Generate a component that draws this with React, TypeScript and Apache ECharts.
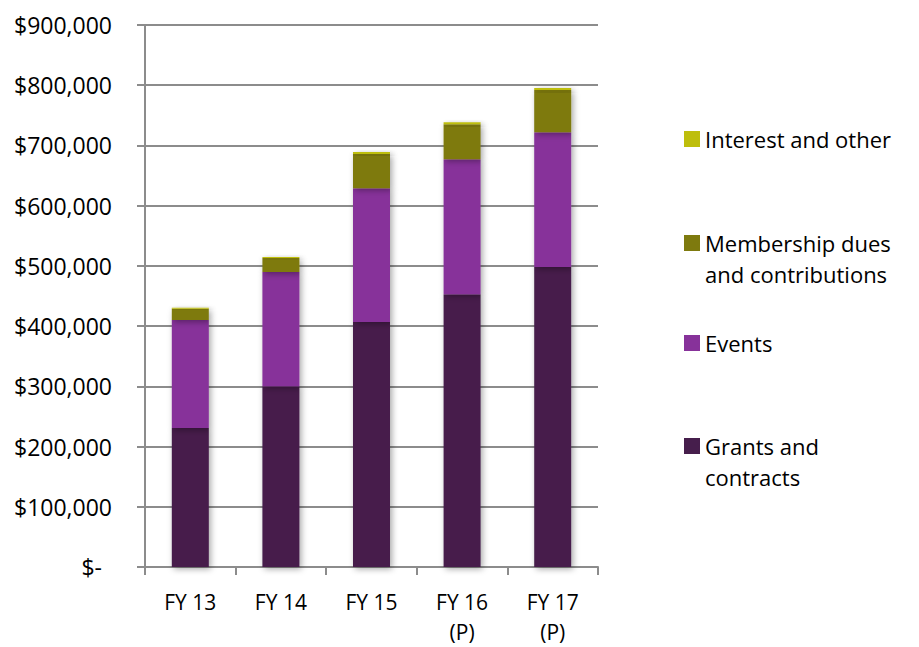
import React, { useEffect, useRef } from "react";
import * as echarts from "echarts";

const categories = ["FY 13", "FY 14", "FY 15", "FY 16\n(P)", "FY 17\n(P)"];
const grants = [231000, 300000, 407000, 453000, 498000];
const events = [179000, 190000, 222000, 224000, 224000];
const membership = [19000, 23000, 57000, 58000, 70000];
const interest = [1500, 1800, 3000, 3500, 3500];
const seriesNames = ["Grants and contracts", "Events", "Membership dues and contributions", "Interest and other"];
const legendLabels: Record<string, string> = {
  "Interest and other": "Interest and other",
  "Membership dues and contributions": "\nMembership dues\nand contributions",
  "Events": "Events",
  "Grants and contracts": "\nGrants and\ncontracts",
};
const colors = ["#461E4C", "#87329A", "#7E7A0E", "#BEBE0C"];

const FONT = "Open Sans";

export default function App() {
  const ref = useRef<HTMLDivElement>(null);
  useEffect(() => {
    document.body.style.margin = "0";
    const chart = echarts.init(ref.current!, undefined, { renderer: "svg" });
    const values = [grants, events, membership, interest];
    const legendTops: [string, number][] = [
      ["Interest and other", 123.5],
      ["Membership dues and contributions", 196.5],
      ["Events", 327.5],
      ["Grants and contracts", 399.5],
    ];
    chart.setOption({
      animation: false,
      grid: { left: 145, right: 321, top: 25, bottom: 80, containLabel: false, outerBoundsMode: "none" },
      legend: legendTops.map(([name, top]) => ({
        data: [name],
        left: 684,
        top: top,
        padding: 0,
        orient: "vertical",
        icon: "rect",
        itemWidth: 16,
        itemHeight: 16,
        itemGap: 6,
        formatter: (n: string) => legendLabels[n],
        textStyle: {
          fontFamily: FONT,
          fontSize: 22,
          color: "#000",
          lineHeight: 31,
        },
      })),
      xAxis: {
        type: "category",
        data: categories,
        axisLine: { lineStyle: { color: "#8c8c8c", width: 2 } },
        axisTick: { show: true, length: 8, lineStyle: { color: "#8c8c8c", width: 2 } },
        axisLabel: {
          fontFamily: FONT,
          fontSize: 21,
          color: "#000",
          margin: 20,
          lineHeight: 30,
          verticalAlign: "top",
        },
      },
      yAxis: {
        type: "value",
        min: 0,
        max: 900000,
        interval: 100000,
        axisLine: { show: true, lineStyle: { color: "#8c8c8c", width: 2 } },
        axisTick: { show: true, length: 8, lineStyle: { color: "#8c8c8c", width: 2 } },
        splitLine: { lineStyle: { color: "#8c8c8c", width: 2 } },
        axisLabel: {
          fontFamily: FONT,
          fontSize: 23,
          color: "#000",
          margin: 33,
          formatter: (v: number) =>
            v === 0 ? "{z|$-}" : "$" + v.toLocaleString("en-US"),
          rich: {
            z: { fontFamily: FONT, fontSize: 23, color: "#000", padding: [0, 10, 0, 0] },
          },
        },
      },
      series: values.map((d, i) => ({
        name: seriesNames[i],
        type: "bar",
        stack: "total",
        data: d,
        barWidth: 37,
        itemStyle: {
          color: colors[i],
          shadowBlur: 6,
          shadowColor: "rgba(0,0,0,0.35)",
          shadowOffsetX: 2,
          shadowOffsetY: 2,
        },
      })),
    });
    return () => chart.dispose();
  }, []);
  return <div ref={ref} style={{ width: 919, height: 647 }} />;
}
